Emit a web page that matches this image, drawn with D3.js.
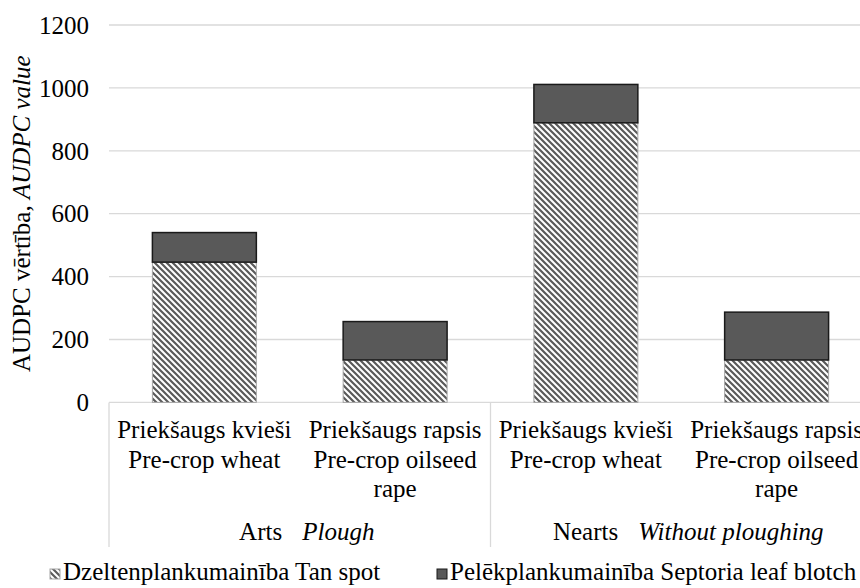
<!DOCTYPE html>
<html>
<head>
<meta charset="utf-8">
<script src="https://cdn.jsdelivr.net/npm/d3@7"></script>
<style>
  html, body { margin: 0; padding: 0; background: #fff; }
  svg { display: block; }
</style>
</head>
<body>
<svg id="chart" width="860" height="588" font-family="'Liberation Serif', serif" font-size="25"></svg>
<script>
// Tillage groups and pre-crop categories
const groups = [
  { lv: "Arts", en: "Plough" },
  { lv: "Nearts", en: "Without ploughing" }
];
const categories = ["Arts|kvieši", "Arts|rapsis", "Nearts|kvieši", "Nearts|rapsis"];
const categoryLines = [
  ["Priekšaugs kvieši", "Pre-crop wheat"],
  ["Priekšaugs rapsis", "Pre-crop oilseed", "rape"],
  ["Priekšaugs kvieši", "Pre-crop wheat"],
  ["Priekšaugs rapsis", "Pre-crop oilseed", "rape"]
];

// AUDPC values per disease
const tanSpot = [446, 135, 889, 135];
const septoria = [94, 122, 122, 152];
const seriesNames = ["Dzeltenplankumainība Tan spot", "Pelēkplankumainība Septoria leaf blotch"];

const yTicks = [0, 200, 400, 600, 800, 1000, 1200];

const svg = d3.select("#chart");
const plotLeft = 109, plotRight = 872, plotTop = 25, plotBottom = 402.4;
const serif = "'Liberation Serif', 'Times New Roman', serif";

const x = d3.scaleBand()
  .domain(categories)
  .range([plotLeft, plotRight])
  .paddingInner(0.455)
  .paddingOuter(0.2275);

const y = d3.scaleLinear().domain([0, 1200]).range([plotBottom, plotTop]);

// Striped fill for tan spot
const defs = svg.append("defs");
const pat = defs.append("pattern")
  .attr("id", "stripes")
  .attr("patternUnits", "userSpaceOnUse")
  .attr("width", 6).attr("height", 6);
pat.append("rect").attr("width", 6).attr("height", 6).attr("fill", "#fff");
pat.append("path")
  .attr("d", "M-1,-1 L7,7 M-1,5 L1,7 M5,-1 L7,1")
  .attr("stroke", "#5a5a5a")
  .attr("stroke-width", 2.2);

// Gridlines
svg.append("g")
  .selectAll("line")
  .data(yTicks)
  .join("line")
  .attr("x1", plotLeft).attr("x2", plotRight)
  .attr("y1", d => y(d)).attr("y2", d => y(d))
  .attr("stroke", "#d9d9d9")
  .attr("stroke-width", 1.3);

// Y tick labels
svg.append("g")
  .selectAll("text")
  .data(yTicks)
  .join("text")
  .attr("font-family", serif)
  .attr("font-size", 25)
  .attr("x", 89)
  .attr("y", d => y(d))
  .attr("dy", "0.35em")
  .attr("text-anchor", "end")
  .text(d => d);

// Y axis title
const yTitle = svg.append("text")
  .attr("font-family", serif)
  .attr("font-size", 25)
  .attr("transform", `translate(30,${(plotTop + plotBottom) / 2}) rotate(-90)`)
  .attr("text-anchor", "middle");
yTitle.append("tspan").text("AUDPC vērtība, ");
yTitle.append("tspan").attr("font-style", "italic").text("AUDPC value");

// Stacked bars
const stack = d3.stack().keys(["tan", "sep"])(
  categories.map((c, i) => ({ cat: c, tan: tanSpot[i], sep: septoria[i] }))
);

svg.append("g")
  .selectAll("rect")
  .data(stack[0])
  .join("rect")
  .attr("x", d => x(d.data.cat))
  .attr("width", x.bandwidth())
  .attr("y", d => y(d[1]))
  .attr("height", d => y(d[0]) - y(d[1]))
  .attr("fill", "url(#stripes)")
  .attr("stroke", "#a6a6a6")
  .attr("stroke-width", 1);

svg.append("g")
  .selectAll("rect")
  .data(stack[1])
  .join("rect")
  .attr("x", d => x(d.data.cat))
  .attr("width", x.bandwidth())
  .attr("y", d => y(d[1]))
  .attr("height", d => y(d[0]) - y(d[1]))
  .attr("fill", "#595959")
  .attr("stroke", "#1a1a1a")
  .attr("stroke-width", 1.5);

// Category axis: group separators
const groupEdges = [plotLeft, x(categories[2]) - x.step() * x.paddingInner() / 2, plotRight];
svg.append("g")
  .selectAll("line")
  .data(groupEdges)
  .join("line")
  .attr("x1", d => d).attr("x2", d => d)
  .attr("y1", plotBottom).attr("y2", 547)
  .attr("stroke", "#d9d9d9")
  .attr("stroke-width", 1.3);

// Category labels
const catG = svg.append("g");
categories.forEach((c, i) => {
  const cx = x(c) + x.bandwidth() / 2;
  const t = catG.append("text")
    .attr("font-family", serif)
    .attr("font-size", 25)
    .attr("text-anchor", "middle");
  categoryLines[i].forEach((line, j) => {
    t.append("tspan").attr("x", cx).attr("y", 438 + j * 29.5).text(line);
  });
});

// Group labels
groups.forEach((g, i) => {
  const cx = (groupEdges[i] + groupEdges[i + 1]) / 2 + 7;
  const t = svg.append("text")
    .attr("font-family", serif)
    .attr("font-size", 25)
    .attr("x", cx).attr("y", 540)
    .attr("text-anchor", "middle");
  t.append("tspan").text(g.lv);
  t.append("tspan").attr("dx", 20).attr("font-style", "italic").text(g.en);
});

// Legend
const legendItems = [
  { name: seriesNames[0], x: 50, fill: "url(#stripes)", stroke: "#a6a6a6" },
  { name: seriesNames[1], x: 437, fill: "#595959", stroke: "#1a1a1a" }
];
const lg = svg.append("g");
legendItems.forEach(d => {
  lg.append("rect")
    .attr("x", d.x).attr("y", 569)
    .attr("width", 10).attr("height", 10)
    .attr("fill", d.fill)
    .attr("stroke", d.stroke);
  lg.append("text")
    .attr("font-family", serif)
    .attr("font-size", 25)
    .attr("x", d.x + 13).attr("y", 580)
    .text(d.name);
});
</script>
</body>
</html>
